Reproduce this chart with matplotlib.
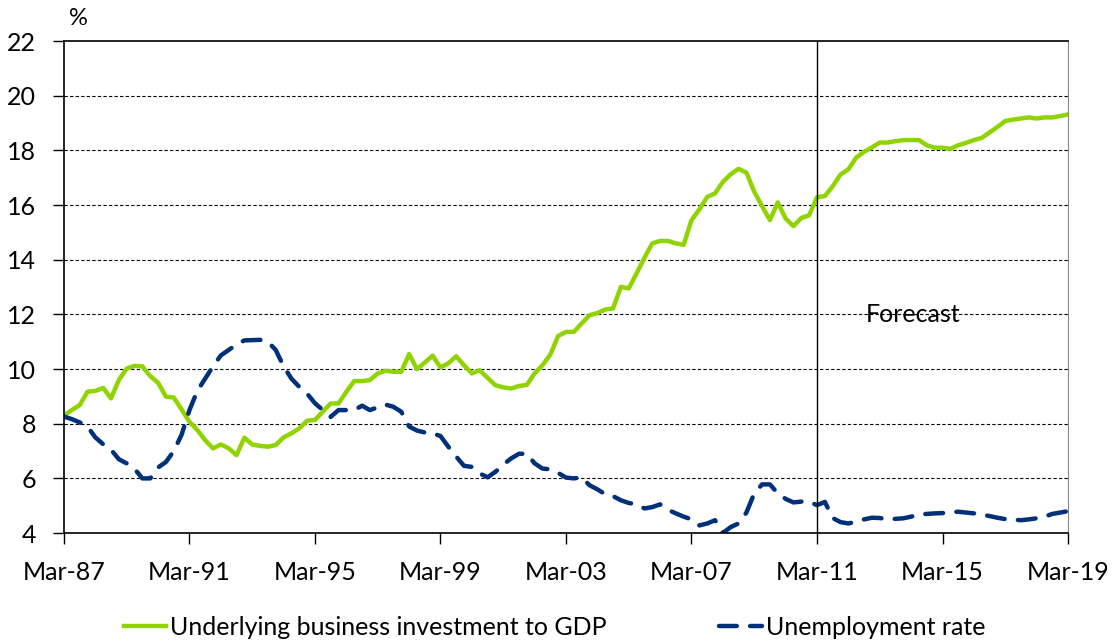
import matplotlib.pyplot as plt
import numpy as np

plt.rcParams['font.family'] = ['Lato', 'DejaVu Sans']

# quarterly data, Mar-87 .. Mar-19
investment = [8.3, 8.5, 8.68, 9.17, 9.2, 9.31, 8.93, 9.6, 10.02, 10.12,
              10.1, 9.74, 9.5, 8.99, 8.96, 8.52, 8.07, 7.77, 7.4, 7.1,
              7.24, 7.1, 6.85, 7.49, 7.24, 7.19, 7.16, 7.22, 7.5, 7.65,
              7.83, 8.11, 8.14, 8.44, 8.74, 8.74, 9.17, 9.56, 9.56, 9.6,
              9.84, 9.94, 9.9, 9.9, 10.55, 10.0, 10.24, 10.49, 10.06, 10.21,
              10.47, 10.14, 9.84, 9.96, 9.68, 9.41, 9.33, 9.29, 9.38, 9.42,
              9.84, 10.14, 10.53, 11.21, 11.36, 11.36, 11.67, 11.97, 12.05, 12.18,
              12.22, 13.01, 12.95, 13.5, 14.07, 14.6, 14.69, 14.69, 14.6, 14.55,
              15.45, 15.84, 16.3, 16.43, 16.85, 17.13, 17.33, 17.19, 16.49, 15.96,
              15.45, 16.1, 15.51, 15.23, 15.53, 15.63, 16.29, 16.33, 16.69, 17.12,
              17.31, 17.74, 17.95, 18.11, 18.29, 18.29, 18.34, 18.38, 18.38, 18.38,
              18.19, 18.1, 18.1, 18.06, 18.19, 18.28, 18.38, 18.46, 18.66, 18.86,
              19.08, 19.13, 19.17, 19.21, 19.17, 19.21, 19.21, 19.26, 19.32]

unemployment = [8.26, 8.17, 8.05, 7.9, 7.5, 7.25, 7.05, 6.7, 6.55, 6.35,
                6.0, 6.0, 6.4, 6.6, 7.0, 7.6, 8.5, 9.2, 9.65, 10.1,
                10.5, 10.7, 10.9, 11.05, 11.06, 11.07, 11.0, 10.7, 10.1, 9.65,
                9.35, 9.1, 8.75, 8.5, 8.25, 8.5, 8.5, 8.5, 8.66, 8.5,
                8.6, 8.7, 8.62, 8.44, 7.9, 7.75, 7.68, 7.65, 7.55, 7.16,
                6.8, 6.46, 6.42, 6.18, 6.04, 6.24, 6.5, 6.73, 6.9, 6.9,
                6.55, 6.36, 6.33, 6.2, 6.03, 6.0, 6.04, 5.75, 5.6, 5.42,
                5.35, 5.2, 5.1, 5.05, 4.9, 4.95, 5.05, 4.85, 4.72, 4.6,
                4.5, 4.28, 4.35, 4.47, 4.0, 4.22, 4.35, 4.75, 5.45, 5.78,
                5.78, 5.45, 5.25, 5.12, 5.15, 5.14, 5.02, 5.14, 4.55, 4.4,
                4.35, 4.42, 4.5, 4.56, 4.55, 4.5, 4.52, 4.54, 4.6, 4.68,
                4.7, 4.72, 4.73, 4.76, 4.78, 4.75, 4.72, 4.68, 4.62, 4.56,
                4.51, 4.49, 4.47, 4.5, 4.54, 4.6, 4.7, 4.75, 4.8]

tick_labels = ["Mar-87", "Mar-91", "Mar-95", "Mar-99", "Mar-03",
               "Mar-07", "Mar-11", "Mar-15", "Mar-19"]
forecast_start = 96  # Mar-11

q = np.arange(len(investment))

fig = plt.figure(figsize=(11.18, 6.43), dpi=100)
ax = fig.add_axes([0.0572, 0.171, 0.8981, 0.765])

ax.plot(q, investment, color='#8fd400', lw=3.2, label='Underlying business investment to GDP')
ax.plot(q, unemployment, color='#00307a', lw=3.2, dashes=(4, 3), dash_capstyle='round',
        label='Unemployment rate')
ax.axvline(forecast_start, color='black', lw=1)
ax.text(108.3, 12.0, 'Forecast', fontsize=18, ha='center', va='center')

ax.set_xlim(0, 128)
ax.set_ylim(4, 22)
ax.set_yticks(np.arange(4, 23, 2))
ax.set_xticks(np.arange(0, 129, 16))
ax.set_xticklabels(tick_labels)
ax.tick_params(axis='both', labelsize=18, direction='out', length=8, width=1, color='black')
ax.tick_params(axis='x', pad=12)
ax.tick_params(axis='y', pad=12)
for y in range(6, 22, 2):
    ax.axhline(y, color='black', lw=0.8, ls=(0, (3, 2)), zorder=0)

for s in ['left', 'bottom', 'top']:
    ax.spines[s].set_color('black')
    ax.spines[s].set_linewidth(1.2)
ax.spines['right'].set_color('#888888')

fig.text(0.07, 0.972, '%', fontsize=17, ha='center', va='center')

fig.legend(loc='center', bbox_to_anchor=(0.496, 0.024), ncol=2, frameon=False,
           fontsize=18, handlelength=1.7, handletextpad=0.15, columnspacing=4.5)

plt.savefig('out.png', dpi=100)
